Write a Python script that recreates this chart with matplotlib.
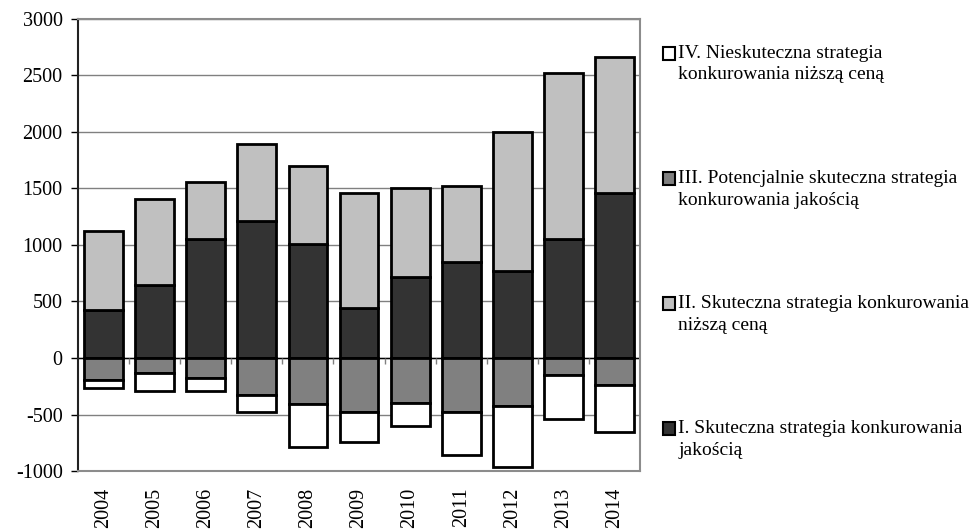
import matplotlib
matplotlib.use("Agg")
import matplotlib.pyplot as plt
from matplotlib.patches import Patch, Rectangle
from matplotlib.legend_handler import HandlerPatch
import numpy as np

plt.rcParams['font.family'] = ['Liberation Serif', 'DejaVu Serif']
plt.rcParams['axes.unicode_minus'] = False

years = ['2004', '2005', '2006', '2007', '2008', '2009', '2010', '2011', '2012', '2013', '2014']
s1 = [425, 646, 1053, 1215, 1006, 440, 720, 852, 773, 1053, 1457]          # I
s2 = [702, 758, 505, 679, 696, 1023, 784, 673, 1230, 1466, 1204]           # II
s3 = [-195, -130, -180, -325, -404, -481, -395, -481, -425, -150, -236]    # III
s4 = [-73, -159, -109, -150, -386, -262, -207, -377, -542, -390, -419]     # IV

labels = ['I. Skuteczna strategia konkurowania\njakością',
          'II. Skuteczna strategia konkurowania\nniższą ceną',
          'III. Potencjalnie skuteczna strategia\nkonkurowania jakością',
          'IV. Nieskuteczna strategia\nkonkurowania niższą ceną']
colors = ['#333333', '#c0c0c0', '#808080', '#ffffff']

fig = plt.figure(figsize=(9.69, 5.30), dpi=100)
ax = fig.add_axes([0.0805, 0.1113, 0.58, 0.8529])

x = np.arange(len(years))
w = 0.76
kw = dict(width=w, edgecolor='black', linewidth=2.0, zorder=3)
ax.bar(x, s1, color=colors[0], **kw)
ax.bar(x, s2, bottom=s1, color=colors[1], **kw)
ax.bar(x, s3, color=colors[2], **kw)
ax.bar(x, s4, bottom=s3, color=colors[3], **kw)

ax.set_xlim(-0.5, len(years) - 0.5)
ax.set_ylim(-1000, 3000)
ax.set_yticks(np.arange(-1000, 3001, 500))
ax.yaxis.grid(True, color='#808080', linewidth=1.0, zorder=0)
ax.set_axisbelow(True)
ax.axhline(0, color='black', linewidth=1.0, zorder=2)
ax.vlines(x[:-1] + 0.5, -50, 0, color='#808080', linewidth=1.0, zorder=2)

ax.set_xticks(x)
ax.set_xticklabels(years, rotation=90, fontsize=14.5)
ax.tick_params(axis='x', length=0, pad=12)
ax.tick_params(axis='y', labelsize=14.5, length=5, width=1.0, direction='out', pad=6)

for side in ['top', 'right', 'bottom']:
    ax.spines[side].set_color('#8c8c8c')
    ax.spines[side].set_linewidth(1.5)
ax.spines['left'].set_color('#222222')
ax.spines['left'].set_linewidth(1.5)


def raised_square(legend, orig_handle, xdescent, ydescent, width, height, fontsize):
    return Rectangle((-xdescent, -ydescent + 0.55 * fontsize), width, height)


handles = [Patch(facecolor=colors[i], edgecolor='black', linewidth=1.5, label=labels[i]) for i in range(4)]
handles = handles[::-1]
leg = fig.legend(handles=handles, loc='upper left', bbox_to_anchor=(0.676, 0.93),
                 frameon=False, fontsize=14, handlelength=0.65, handleheight=0.65,
                 handletextpad=0.15, labelspacing=4.45, borderaxespad=0,
                 handler_map={Patch: HandlerPatch(patch_func=raised_square)})
for t in leg.get_texts():
    t.set_linespacing(1.35)

fig.savefig('out.png', dpi=100)
